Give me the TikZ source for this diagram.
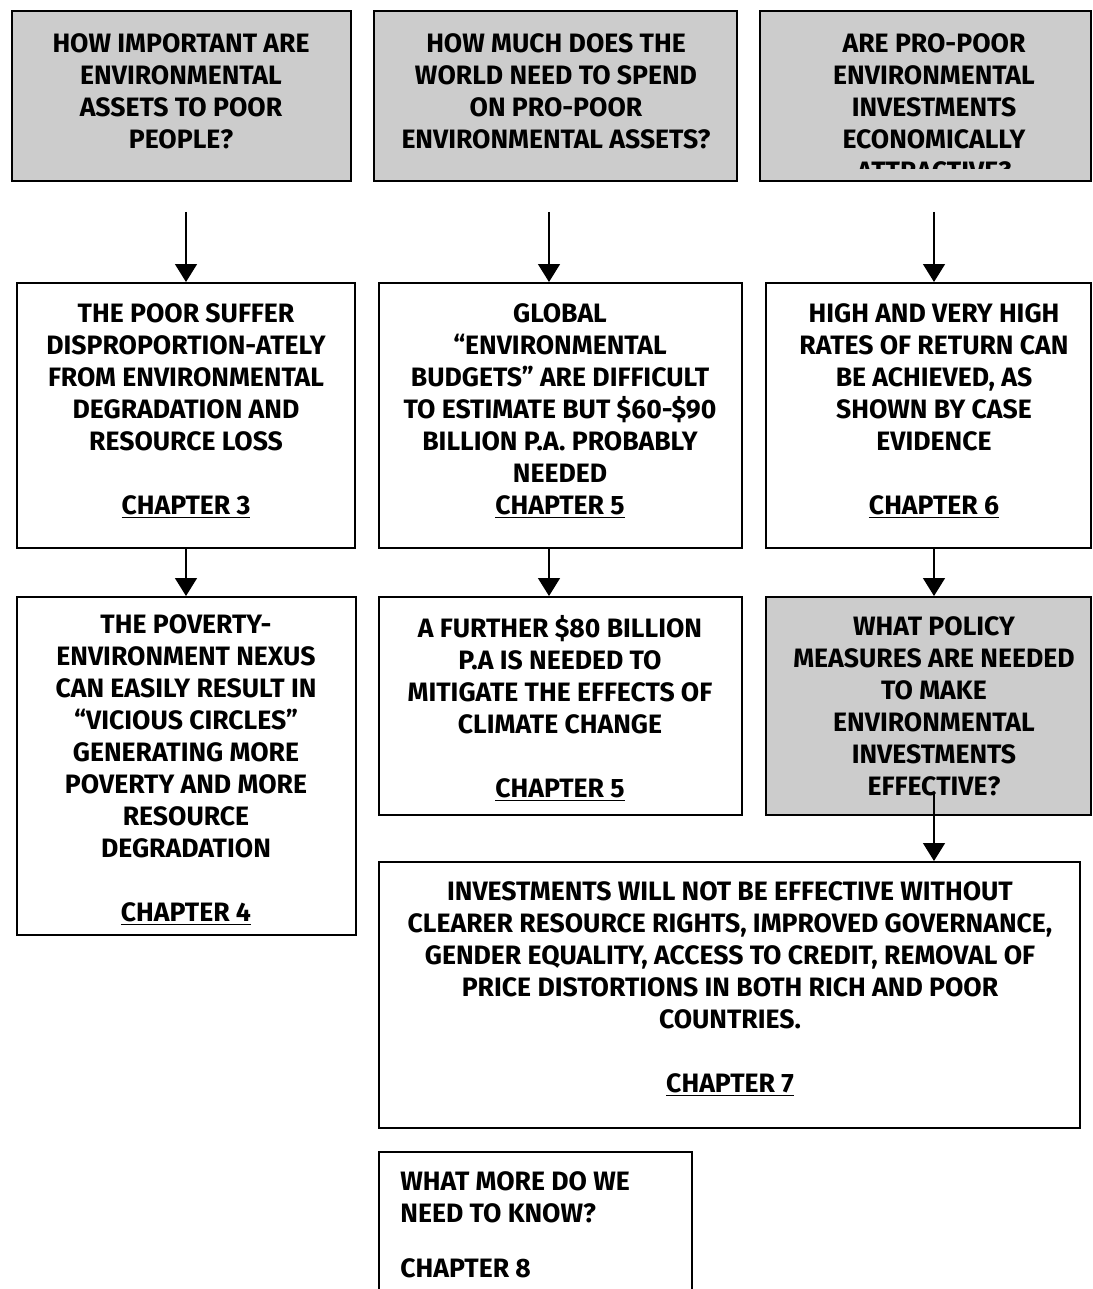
\documentclass[tikz,border=0pt]{standalone}
\usepackage{fontspec}
\setmainfont{Fira Sans}
\usetikzlibrary{arrows.meta,fit}

\tikzset{
  qbox/.style={draw, line width=1pt, fill=black!20, inner sep=0pt},
  abox/.style={draw, line width=1pt, fill=white, inner sep=0pt},
  txt/.style={anchor=north, inner sep=0pt, align=center, font=\fontsize{13.3}{16}\selectfont\bfseries},
  link/.style={draw, line width=0.75pt, -{Triangle[length=9pt,width=11pt]}}
}
\newcommand{\chap}[1]{\underline{CHAPTER #1}}

\begin{document}
\begin{tikzpicture}[x=0.5pt,y=-0.5pt]
\useasboundingbox (0,0) rectangle (1092,1289);

\coordinate (col1) at (186,0);
\coordinate (col2) at (549,0);
\coordinate (col3) at (934,0);

% questions on top
\node[qbox, fit={(12,11) (351,181)}] (q1) {};
\node[qbox, fit={(374,11) (737,181)}] (q2) {};
\node[qbox, fit={(760,11) (1091,181)}] (q3) {};

\node[txt] (tq1) at (181,33) {HOW IMPORTANT ARE\\ ENVIRONMENTAL\\ ASSETS TO POOR\\ PEOPLE?};
\node[txt] (tq2) at (556,33) {HOW MUCH DOES THE\\ WORLD NEED TO SPEND\\ ON PRO-POOR\\ ENVIRONMENTAL ASSETS?};
\begin{scope}
\clip (760,11) rectangle (1091,169);
\node[txt] (tq3) at (934,33) {ARE PRO-POOR\\ ENVIRONMENTAL\\ INVESTMENTS\\ ECONOMICALLY\\ ATTRACTIVE?};
\end{scope}

% answers
\node[abox, fit={(17,283) (355,548)}] (a) {};
\node[abox, fit={(379,283) (742,548)}] (b) {};
\node[abox, fit={(766,283) (1091,548)}] (c) {};
\node[abox, fit={(17,597) (356,935)}] (d) {};
\node[abox, fit={(379,597) (742,815)}] (e) {};
\node[qbox, fit={(766,597) (1091,815)}] (f) {};
\node[abox, fit={(379,862) (1080,1128)}] (g) {};
\node[abox, fit={(379,1152) (692,1320)}] (h) {};

\node[txt] (ta) at (186,303) {THE POOR SUFFER\\ DISPROPORTION-ATELY\\ FROM ENVIRONMENTAL\\ DEGRADATION AND\\ RESOURCE LOSS\\[16pt] \chap{3}};
\node[txt] (tb) at (560,303) {GLOBAL\\ “ENVIRONMENTAL\\ BUDGETS” ARE DIFFICULT\\ TO ESTIMATE BUT \$60-\$90\\ BILLION P.A. PROBABLY\\ NEEDED\\ \chap{5}};
\node[txt] (tc) at (934,303) {HIGH AND VERY HIGH\\ RATES OF RETURN CAN\\ BE ACHIEVED, AS\\ SHOWN BY CASE\\ EVIDENCE\\[16pt] \chap{6}};
\node[txt] (td) at (186,614) {THE POVERTY-\\ ENVIRONMENT NEXUS\\ CAN EASILY RESULT IN\\ “VICIOUS CIRCLES”\\ GENERATING MORE\\ POVERTY AND MORE\\ RESOURCE\\ DEGRADATION\\[16pt] \chap{4}};
\node[txt] (te) at (560,615) {A FURTHER \$80 BILLION\\ P.A IS NEEDED TO\\ MITIGATE THE EFFECTS OF\\ CLIMATE CHANGE\\[16pt] \chap{5}};
\node[txt] (tf) at (934,616) {WHAT POLICY\\ MEASURES ARE NEEDED\\ TO MAKE\\ ENVIRONMENTAL\\ INVESTMENTS\\ EFFECTIVE?};
\node[txt] (tg) at (730,881) {INVESTMENTS WILL NOT BE EFFECTIVE WITHOUT\\ CLEARER RESOURCE RIGHTS, IMPROVED GOVERNANCE,\\ GENDER EQUALITY, ACCESS TO CREDIT, REMOVAL OF\\ PRICE DISTORTIONS IN BOTH RICH AND POOR\\ COUNTRIES.\\[16pt] \chap{7}};
\node[txt, anchor=north west, align=left] (th) at (400,1171) {WHAT MORE DO WE\\ NEED TO KNOW?\\[11.5pt] CHAPTER 8};

% arrows
\path[link, shorten <=15pt] (q1.south -| col1) -- (a.north -| col1);
\path[link, shorten <=15pt] (q2.south -| col2) -- (b.north -| col2);
\path[link, shorten <=15pt] (q3.south -| col3) -- (c.north -| col3);
\path[link] (a.south -| col1) -- (d.north -| col1);
\path[link] (b.south -| col2) -- (e.north -| col2);
\path[link] (c.south -| col3) -- (f.north -| col3);
\path[link, shorten <=-11pt] (f.south -| col3) -- (g.north -| col3);
\end{tikzpicture}
\end{document}
